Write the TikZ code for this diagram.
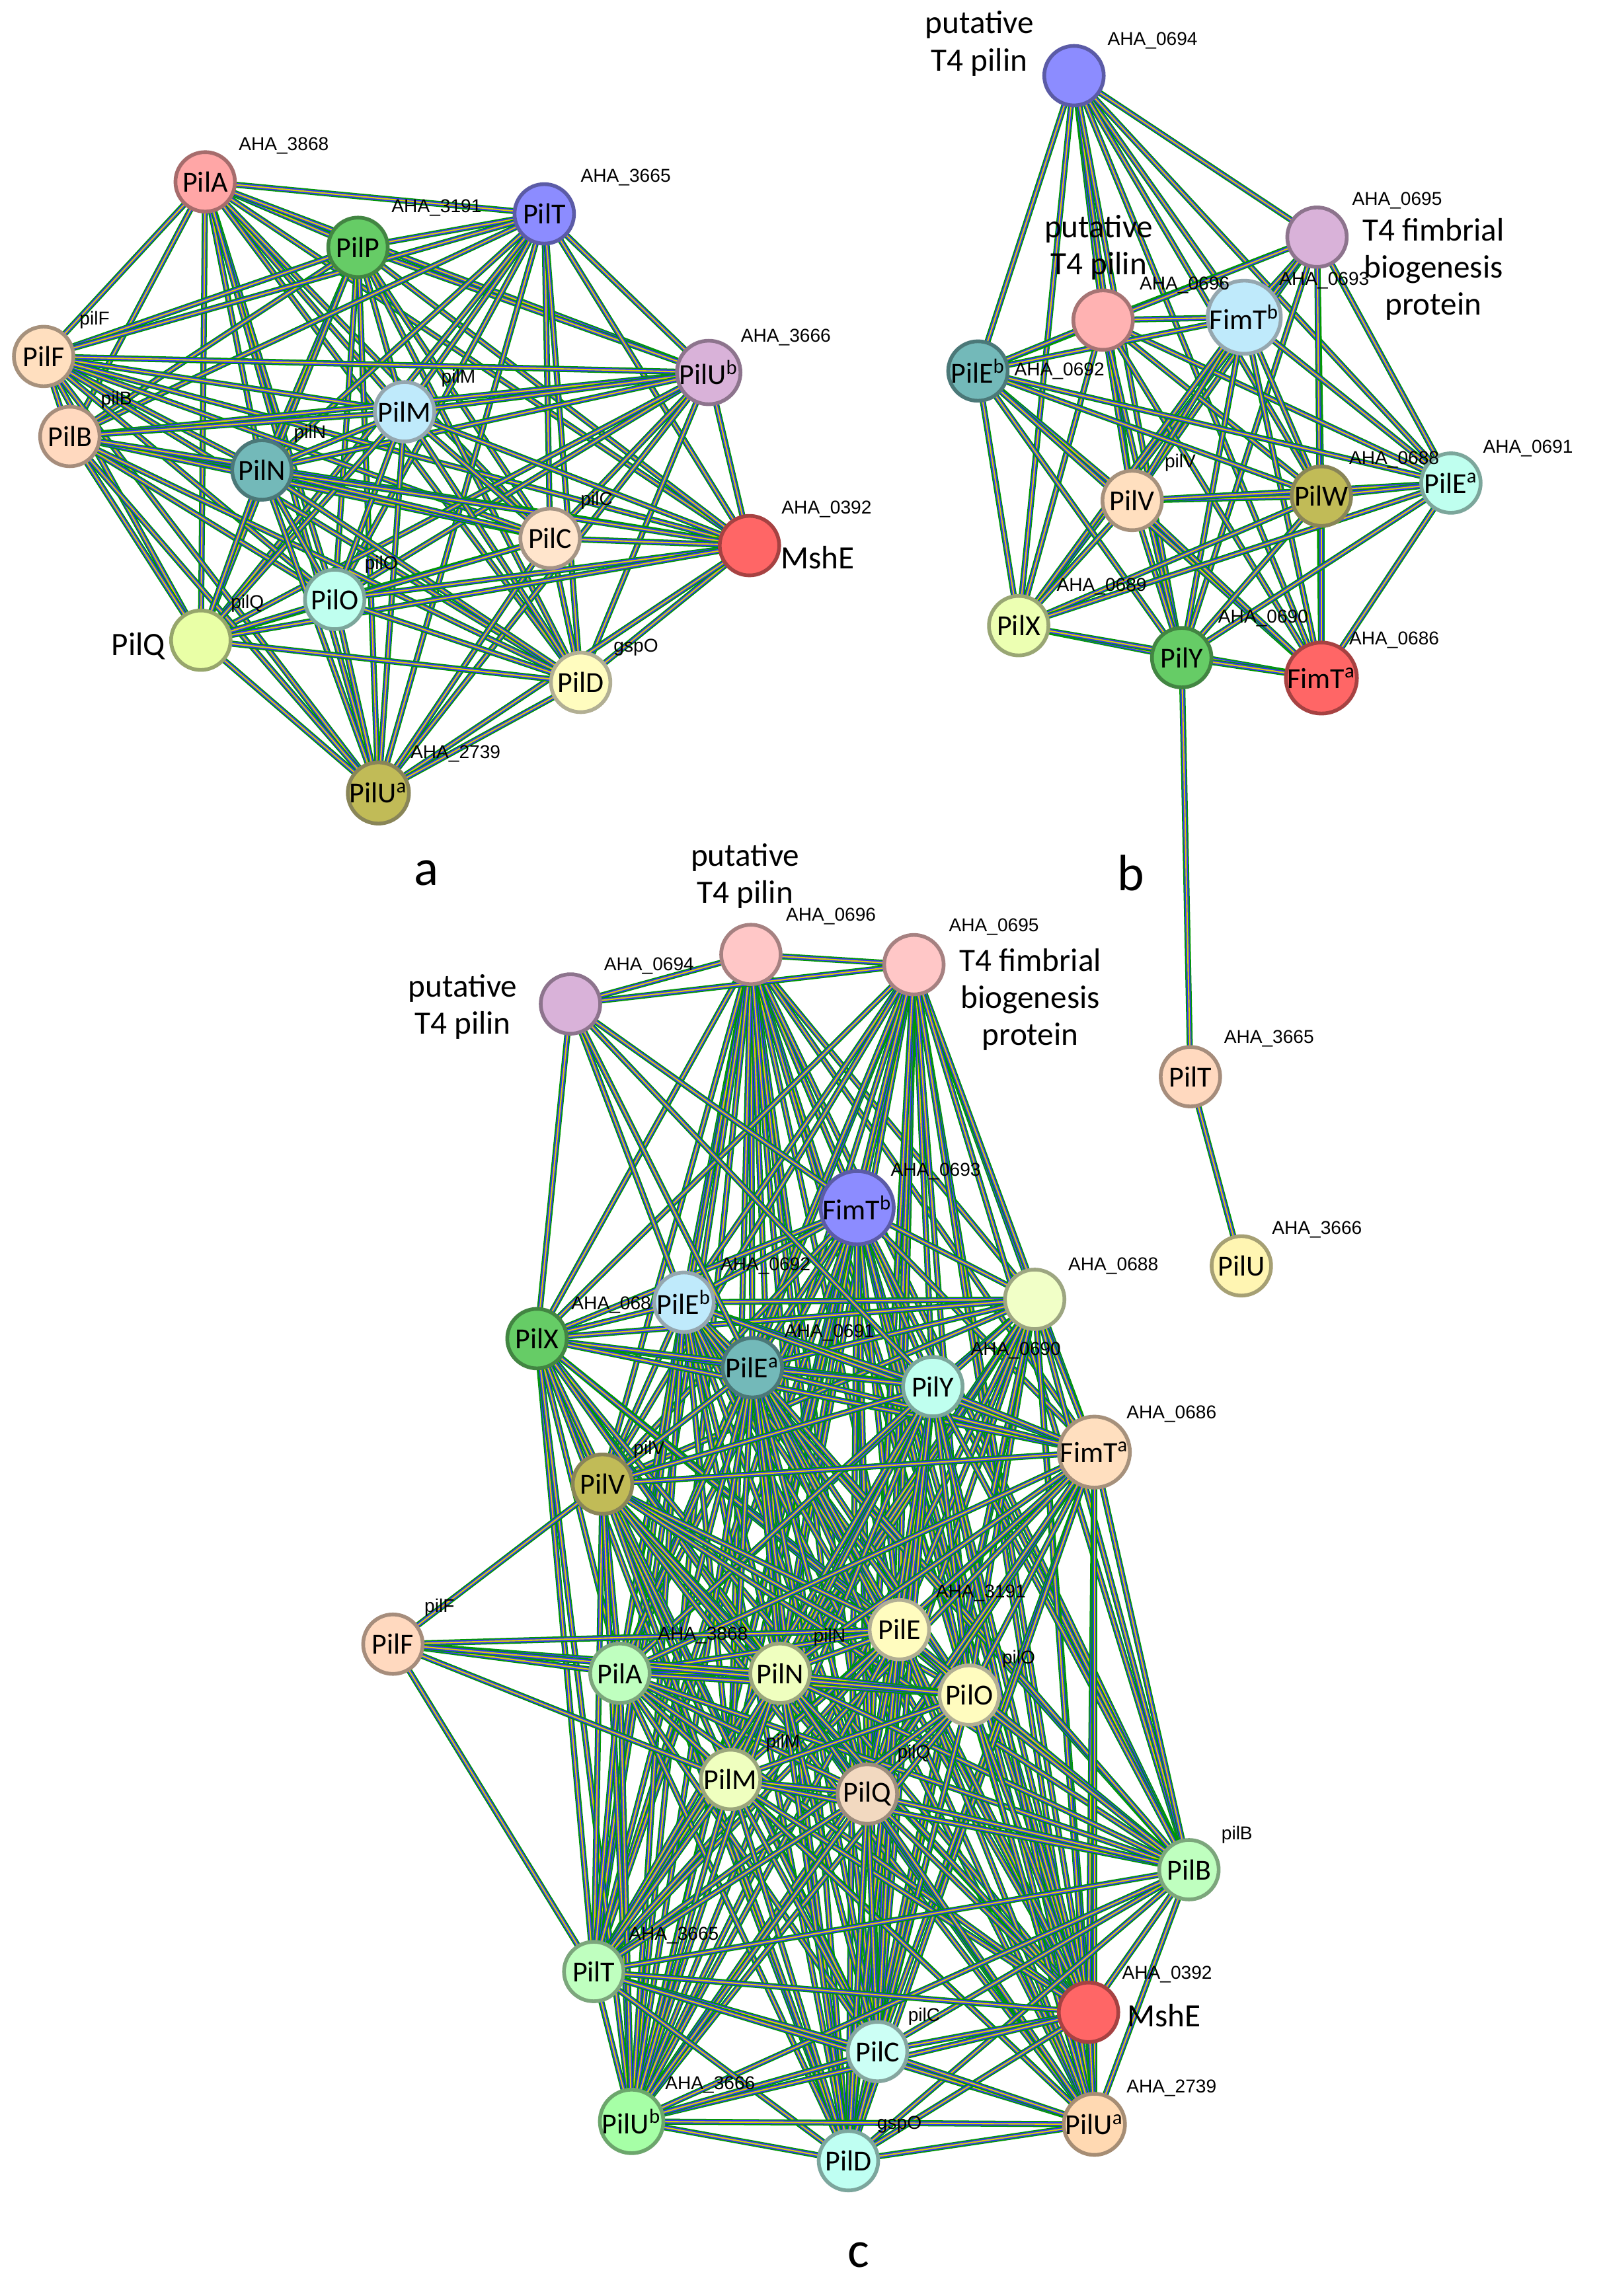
\documentclass[tikz,border=0pt]{standalone}
\usepackage{fontspec}
\setmainfont{Carlito}
\newfontfamily\smallf{Liberation Sans}
\usetikzlibrary{backgrounds}
\begin{document}
\begin{tikzpicture}[x=0.022018cm,y=-0.022018cm,
  pn/.style={circle,minimum size=0.9cm,inner sep=0pt,line width=1.6pt,font=\fontsize{12.5}{14}\selectfont},
  lb/.style={font=\smallf\fontsize{8}{9}\selectfont,inner sep=1pt},
  tx/.style={font=\fontsize{14}{16}\selectfont,align=center,inner sep=1pt},
  edge/.style={draw=green!60!black,line width=2.6pt,
    postaction={draw=blue!80,line width=1.6pt},
    postaction={draw=yellow!70!olive,line width=0.6pt}}]
\useasboundingbox (0,0) rectangle (1100,1578);
\newcommand\pnode[5]{\colorlet{tmpc}{#4}\node[pn,fill=tmpc,draw=tmpc!65!black] (#1) at (#2,#3) {#5};}
% ---------- panel a
\pnode{aPilA}{141}{125}{red!35}{PilA}
\pnode{aPilP}{246}{170}{green!50!gray!80}{PilP}
\pnode{aPilT}{374}{147}{blue!45}{PilT}
\pnode{aPilF}{30}{245}{orange!25}{PilF}
\pnode{aPilUb}{487}{256}{violet!30}{PilU\textsuperscript{b}}
\pnode{aPilB}{48}{300}{red!20!orange!25}{PilB}
\pnode{aPilM}{278}{283}{cyan!25}{PilM}
\pnode{aPilN}{180}{323}{teal!55}{PilN}
\pnode{aPilC}{378}{370}{orange!20}{PilC}
\pnode{aMshE}{515}{375}{red!60}{}
\pnode{aPilO}{230}{412}{green!25!cyan!25}{PilO}
\pnode{aPilQ}{138}{440}{lime!35}{}
\pnode{aPilD}{399}{469}{yellow!25}{PilD}
\pnode{aPilUa}{260}{545}{olive!55}{PilU\textsuperscript{a}}
\node[lb] (la1) at (195,100) {AHA\_3868};
\node[lb] (la2) at (300,143) {AHA\_3191};
\node[lb] (la3) at (430,122) {AHA\_3665};
\node[lb] (la4) at (65,220) {pilF};
\node[lb] (la5) at (540,232) {AHA\_3666};
\node[lb] (la6) at (80,275) {pilB};
\node[lb] (la7) at (315,260) {pilM};
\node[lb] (la8) at (213,298) {pilN};
\node[lb] (la9) at (410,344) {pilC};
\node[lb] (la10) at (568,350) {AHA\_0392};
\node[tx] (la11) at (562,383) {MshE};
\node[lb] (la12) at (262,388) {pilO};
\node[lb] (la13) at (170,415) {pilQ};
\node[tx] (la14) at (95,444) {PilQ};
\node[lb] (la15) at (437,445) {gspO};
\node[lb] (la16) at (313,518) {AHA\_2739};
\node[font=\fontsize{22}{24}\selectfont] (lA) at (293,600) {a};
% ---------- panel b
\pnode{b694}{738}{52}{blue!45}{}
\pnode{b695}{905}{163}{violet!30}{}
\pnode{b696}{758}{220}{red!30}{}
\pnode{bFimTb}{855}{218}{cyan!25}{FimT\textsuperscript{b}}
\pnode{bPilEb}{672}{255}{teal!55}{PilE\textsuperscript{b}}
\pnode{bPilV}{778}{344}{orange!25}{PilV}
\pnode{bPilW}{908}{341}{olive!55}{PilW}
\pnode{bPilEa}{997}{332}{green!25!cyan!25}{PilE\textsuperscript{a}}
\pnode{bPilX}{700}{430}{lime!30}{PilX}
\pnode{bPilY}{812}{452}{green!50!gray!80}{PilY}
\pnode{bFimTa}{908}{466}{red!60}{FimT\textsuperscript{a}}
\pnode{bPilT}{818}{740}{red!20!orange!25}{PilT}
\pnode{bPilU}{853}{870}{orange!25!yellow!30}{PilU}
\node[tx] (lb1) at (673,30) {putative\\T4 pilin};
\node[lb] (lb2) at (792,28) {AHA\_0694};
\node[lb] (lb3) at (960,138) {AHA\_0695};
\node[tx] (lb4) at (985,185) {T4 fimbrial\\biogenesis\\protein};
\node[tx] (lb5) at (755,170) {putative\\T4 pilin};
\node[lb] (lb6) at (814,196) {AHA\_0696};
\node[lb] (lb7) at (910,193) {AHA\_0693};
\node[lb] (lb8) at (728,255) {AHA\_0692};
\node[lb] (lb9) at (811,318) {pilV};
\node[lb] (lb10) at (958,316) {AHA\_0688};
\node[lb] (lb11) at (1050,308) {AHA\_0691};
\node[lb] (lb12) at (757,403) {AHA\_0689};
\node[lb] (lb13) at (868,425) {AHA\_0690};
\node[lb] (lb14) at (958,440) {AHA\_0686};
\node[lb] (lb15) at (872,714) {AHA\_3665};
\node[lb] (lb16) at (905,845) {AHA\_3666};
\node[font=\fontsize{22}{24}\selectfont] (lB) at (777,600) {b};
% ---------- panel c
\pnode{c694}{392}{690}{violet!30}{}
\pnode{c696}{516}{656}{red!22}{}
\pnode{c695}{628}{663}{red!22}{}
\pnode{cFimTb}{589}{830}{blue!45}{FimT\textsuperscript{b}}
\pnode{c688}{711}{893}{lime!22}{}
\pnode{cPilEb}{470}{895}{cyan!25}{PilE\textsuperscript{b}}
\pnode{cPilX}{369}{920}{green!50!gray!80}{PilX}
\pnode{cPilEa}{517}{940}{teal!55}{PilE\textsuperscript{a}}
\pnode{cPilY}{641}{953}{green!25!cyan!25}{PilY}
\pnode{cPilV}{414}{1020}{olive!55}{PilV}
\pnode{cFimTa}{752}{998}{orange!25}{FimT\textsuperscript{a}}
\pnode{cPilF}{270}{1130}{red!20!orange!25}{PilF}
\pnode{cPilE}{618}{1120}{yellow!25}{PilE}
\pnode{cPilA}{426}{1150}{green!25}{PilA}
\pnode{cPilN}{536}{1150}{lime!25}{PilN}
\pnode{cPilO}{666}{1165}{yellow!25}{PilO}
\pnode{cPilM}{502}{1223}{lime!25}{PilM}
\pnode{cPilQ}{596}{1233}{orange!30!brown!30}{PilQ}
\pnode{cPilB}{817}{1285}{green!25}{PilB}
\pnode{cPilT}{408}{1355}{green!25}{PilT}
\pnode{cMshE}{748}{1383}{red!60}{}
\pnode{cPilC}{603}{1410}{green!20!cyan!20}{PilC}
\pnode{cPilUb}{434}{1458}{green!35}{PilU\textsuperscript{b}}
\pnode{cPilUa}{752}{1460}{orange!30}{PilU\textsuperscript{a}}
\pnode{cPilD}{583}{1485}{green!20!cyan!25}{PilD}
\node[tx] (lc1) at (318,692) {putative\\T4 pilin};
\node[lb] (lc2) at (446,664) {AHA\_0694};
\node[tx] (lc3) at (512,602) {putative\\T4 pilin};
\node[lb] (lc4) at (571,630) {AHA\_0696};
\node[lb] (lc5) at (683,637) {AHA\_0695};
\node[tx] (lc6) at (708,687) {T4 fimbrial\\biogenesis\\protein};
\node[lb] (lc7) at (643,805) {AHA\_0693};
\node[lb] (lc8) at (765,870) {AHA\_0688};
\node[lb] (lc9) at (526,870) {AHA\_0692};
\node[lb] (lc10) at (420,897) {AHA\_068};
\node[lb] (lc11) at (570,916) {AHA\_0691};
\node[lb] (lc12) at (698,928) {AHA\_0690};
\node[lb] (lc13) at (446,996) {pilV};
\node[lb] (lc14) at (805,972) {AHA\_0686};
\node[lb] (lc15) at (302,1105) {pilF};
\node[lb] (lc16) at (674,1095) {AHA\_3191};
\node[lb] (lc17) at (483,1124) {AHA\_3868};
\node[lb] (lc18) at (570,1125) {pilN};
\node[lb] (lc19) at (700,1140) {pilO};
\node[lb] (lc20) at (538,1198) {pilM};
\node[lb] (lc21) at (628,1205) {pilQ};
\node[lb] (lc22) at (850,1261) {pilB};
\node[lb] (lc23) at (463,1330) {AHA\_3665};
\node[lb] (lc24) at (802,1357) {AHA\_0392};
\node[tx] (lc25) at (800,1385) {MshE};
\node[lb] (lc26) at (635,1386) {pilC};
\node[lb] (lc27) at (488,1433) {AHA\_3666};
\node[lb] (lc28) at (805,1435) {AHA\_2739};
\node[lb] (lc29) at (618,1460) {gspO};
\node[font=\fontsize{22}{24}\selectfont] (lC) at (590,1550) {c};
% ---------- edges
\begin{scope}[on background layer]
\foreach \a [count=\i] in {aPilA,aPilP,aPilT,aPilF,aPilUb,aPilB,aPilM,aPilN,aPilC,aMshE,aPilO,aPilQ,aPilD,aPilUa}{
 \foreach \b [count=\j] in {aPilA,aPilP,aPilT,aPilF,aPilUb,aPilB,aPilM,aPilN,aPilC,aMshE,aPilO,aPilQ,aPilD,aPilUa}{
  \ifnum\j>\i \path[edge] (\a.center) -- (\b.center); \fi}}
\foreach \a [count=\i] in {b694,b695,b696,bFimTb,bPilEb,bPilV,bPilW,bPilEa,bPilX,bPilY,bFimTa}{
 \foreach \b [count=\j] in {b694,b695,b696,bFimTb,bPilEb,bPilV,bPilW,bPilEa,bPilX,bPilY,bFimTa}{
  \ifnum\j>\i \path[edge] (\a.center) -- (\b.center); \fi}}
\path[edge] (bPilY.center) -- (bPilT.center);
\path[edge] (bPilT.center) -- (bPilU.center);
\foreach \a [count=\i] in {c696,c695,cFimTb,c688,cPilEb,cPilX,cPilEa,cPilY,cPilV,cFimTa,cPilE,cPilA,cPilN,cPilO,cPilM,cPilQ,cPilB,cPilT,cMshE,cPilC,cPilUb,cPilUa,cPilD}{
 \foreach \b [count=\j] in {c696,c695,cFimTb,c688,cPilEb,cPilX,cPilEa,cPilY,cPilV,cFimTa,cPilE,cPilA,cPilN,cPilO,cPilM,cPilQ,cPilB,cPilT,cMshE,cPilC,cPilUb,cPilUa,cPilD}{
  \ifnum\j>\i \path[edge] (\a.center) -- (\b.center); \fi}}
\foreach \b in {c696,c695,cFimTb,cPilEb,cPilX,cPilEa,cPilY}{\path[edge] (c694.center) -- (\b.center);}
\foreach \b in {cPilA,cPilN,cPilV,cPilE,cPilO,cPilM,cPilT}{\path[edge] (cPilF.center) -- (\b.center);}
\end{scope}
\end{tikzpicture}
\end{document}
